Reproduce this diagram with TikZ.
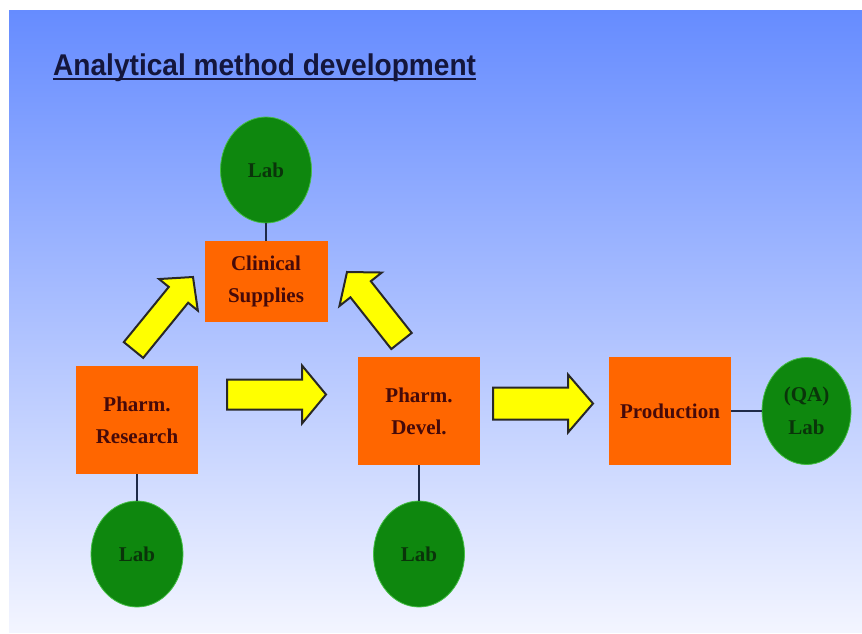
\documentclass[tikz,border=0pt]{standalone}
\usepackage{fontspec}
\setmainfont{Liberation Serif}
\newfontfamily\titlefont{Liberation Sans}
\usetikzlibrary{shapes.geometric,calc}
\definecolor{bgtop}{RGB}{102,140,255}
\definecolor{bgbot}{RGB}{243,245,255}
\definecolor{boxor}{RGB}{255,102,0}
\definecolor{labgreen}{RGB}{14,135,14}
\definecolor{labedge}{RGB}{70,190,70}
\definecolor{boxtext}{RGB}{70,10,10}
\definecolor{labtext}{RGB}{10,52,10}
\definecolor{titletext}{RGB}{20,22,60}
\definecolor{linkcol}{RGB}{30,42,72}
\definecolor{arrfill}{RGB}{255,255,0}
\definecolor{arredge}{RGB}{40,40,40}
\tikzset{
  boxnode/.style={rectangle, fill=boxor, inner sep=0pt, minimum width=122pt, minimum height=108pt,
    align=center, text=boxtext, font=\fontsize{21}{32}\selectfont\bfseries},
  labnode/.style={ellipse, fill=labgreen, draw=labedge, line width=0.8pt, inner sep=0pt,
    minimum width=91pt, minimum height=106pt, align=center, text=labtext,
    font=\fontsize{21}{33}\selectfont\bfseries},
  link/.style={draw=linkcol, line width=2.5pt},
  blockarr/.style={fill=arrfill, draw=arredge, line width=2pt, line join=miter},
}
% #1 tail, #2 tip, #3 half shaft width, #4 half head width, #5 head length
\newcommand\blockarrow[5]{%
  \coordinate (ah) at ($(#2)!#5!(#1)$);
  \draw[blockarr] ($(#1)!#3!90:(#2)$) -- ($(ah)!#3!-90:(#1)$) -- ($(ah)!#4!-90:(#1)$) -- (#2)
    -- ($(ah)!#4!90:(#1)$) -- ($(ah)!#3!90:(#1)$) -- ($(#1)!#3!-90:(#2)$) -- cycle;
}
\begin{document}
\begin{tikzpicture}[x=1pt, y=-1pt]
\useasboundingbox (0,0) rectangle (862,634);
\fill[white] (0,0) rectangle (862,634);
\shade[top color=bgtop, bottom color=bgbot] (9,11) rectangle (862,632);

% title
\node[anchor=base west, inner sep=0pt, text=titletext] (title) at (53,75)
  {\scalebox{0.936}[1]{\titlefont\bfseries\fontsize{30}{36}\selectfont Analytical method development}};
\draw[titletext, line width=2pt] ([yshift=-4pt]title.base west) -- ([yshift=-4pt]title.base east);

% nodes
\node[labnode] (labcs) at (266,170) {Lab};
\node[boxnode, minimum width=123pt, minimum height=81pt] (cs) at (266,281.5) {Clinical\\Supplies};
\node[boxnode] (pr) at (137,420) {Pharm.\\Research};
\node[labnode, minimum width=92pt] (labpr) at (137,554) {Lab};
\node[boxnode] (pd) at (419,411) {Pharm.\\Devel.};
\node[labnode] (labpd) at (419,554) {Lab};
\node[boxnode] (prod) at (670,411) {Production};
\node[labnode, minimum width=89pt, minimum height=107pt] (qa) at (806.5,411) {(QA)\\Lab};

% links
\draw[link] (labcs) -- (cs);
\draw[link] (pr) -- (labpr);
\draw[link] (pd) -- (labpd);
\draw[link] (prod) -- (qa);

% block arrows
\coordinate (a1t) at (133.5,350); \coordinate (a1h) at (193,277);
\coordinate (a2t) at (401.5,341); \coordinate (a2h) at (347,272);
\coordinate (a3t) at (227,394.5); \coordinate (a3h) at (326,394.5);
\coordinate (a4t) at (493,403.5); \coordinate (a4h) at (593,403.5);
\blockarrow{a1t}{a1h}{12.5pt}{25pt}{23pt}
\blockarrow{a2t}{a2h}{13pt}{27pt}{22pt}
\blockarrow{a3t}{a3h}{15pt}{29pt}{24pt}
\blockarrow{a4t}{a4h}{16pt}{29pt}{25pt}
\end{tikzpicture}
\end{document}
